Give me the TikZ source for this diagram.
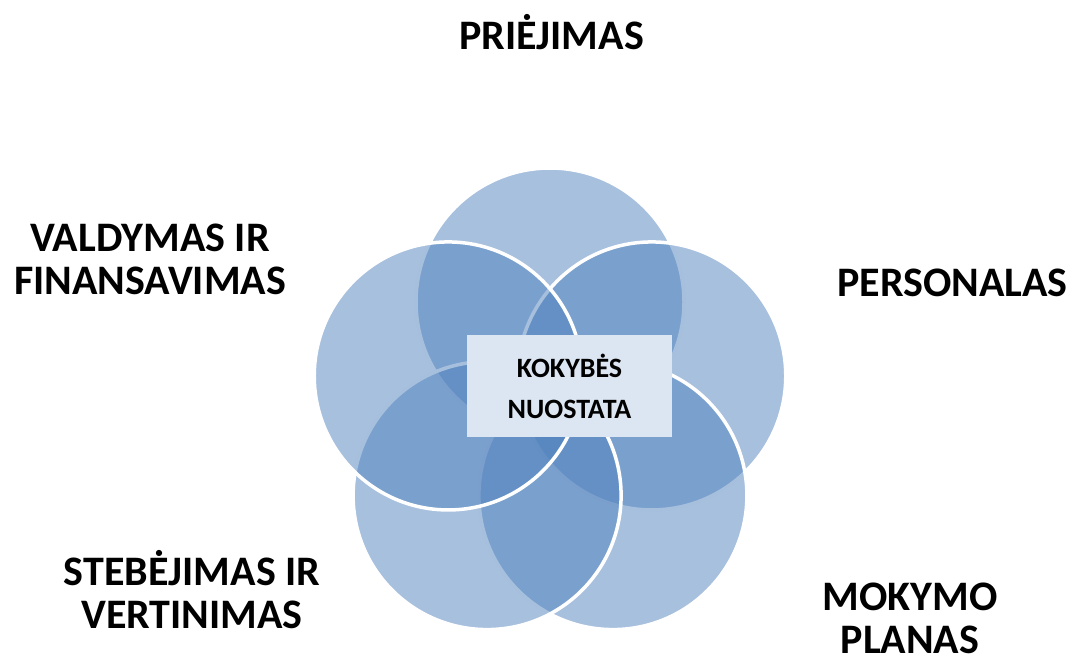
\documentclass[tikz,border=0pt]{standalone}
\usepackage{fontspec}
\setmainfont{Carlito}
\usetikzlibrary{calc}
\definecolor{petalblue}{HTML}{4F81BD}
\definecolor{corefill}{HTML}{DCE6F2}

\begin{document}
\begin{tikzpicture}[x=1pt,y=-1pt,
	petal/.style={circle,minimum size=268pt,inner sep=0pt,fill=petalblue,fill opacity=0.5,draw=white,draw opacity=1,line width=3.5pt},
	corebox/.style={fill=corefill,minimum width=205pt,minimum height=102pt,inner sep=0pt,align=center,font=\fontsize{28}{41}\selectfont\bfseries},
	lbl/.style={align=center,inner sep=0pt,font=\fontsize{42}{43}\selectfont\bfseries}]
	\useasboundingbox (0,0) rectangle (1073,657);
	\def\d{107}
	\coordinate (mid) at (550,409);
	% petals: top, right, bottom right, bottom left, left
	\foreach \a/\n in {-90/top,-18/right,54/botright,126/botleft,198/left}
		\node[petal] (\n) at ($(mid)+(\a:\d)$) {};
	\node[corebox] (core) at (569.5,386) {KOKYBĖS\\NUOSTATA};
	% labels
	\node[lbl] (priejimas) at (551.5,32.5) {PRIĖJIMAS};
	\node[lbl] (personalas) at (952.5,282.5) {PERSONALAS};
	\node[lbl] (mokymo) at (910,618) {MOKYMO\\PLANAS};
	\node[lbl] (stebejimas) at (192,590) {STEBĖJIMAS IR\\VERTINIMAS};
	\node[lbl] (valdymas) at (150,259) {VALDYMAS IR\\FINANSAVIMAS};
\end{tikzpicture}
\end{document}
